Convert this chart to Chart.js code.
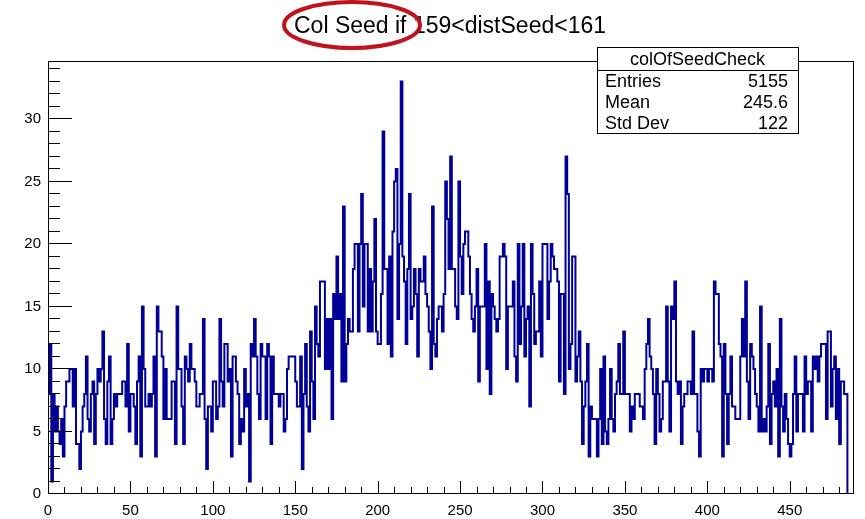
<!DOCTYPE html>
<html>
<head>
<meta charset="utf-8">
<script src="https://cdn.jsdelivr.net/npm/chart.js@4.4.1/dist/chart.umd.min.js"></script>
<style>
  html, body { margin: 0; padding: 0; background: #ffffff; }
  canvas { display: block; }
</style>
</head>
<body>
<canvas id="c" width="865" height="519"></canvas>
<script>
// Histogram: column of seed pixel, selected by 159 < distSeed < 161
const histTitle = 'Col Seed if 159<distSeed<161';
const histName = 'colOfSeedCheck';
const statLabels = ['Entries', 'Mean', 'Std Dev'];
const statValues = ['5155', '245.6', '122'];

const xRange = [0, 489];
const yMax = 34.65;
const xLabelStep = 50, xMinorStep = 10;
const yLabelStep = 5, yMinorStep = 1;

// counts per unit-wide bin, starting at column 0
const binCounts = [
   8,12, 1, 8, 5, 7, 5, 4, 6, 3,   7, 9, 9,10,10, 7,10, 4, 4, 2,
   5, 7, 8,11, 6, 5, 8, 9, 4, 8,  10, 9,10,13, 6, 4, 9,11, 4, 6,
   8, 7, 8, 8, 8, 9, 9, 7,12, 5,   8, 8, 7, 4, 9,11, 3,15,10, 7,
   7, 8, 7, 8,11, 3,15,13,13,11,   6,10, 6, 6, 6, 9, 9, 4,15,10,
  10, 7, 4,11,10, 9,12,10,10, 9,   7, 7, 8, 8,14, 6, 2, 7, 7, 5,
   9, 9, 6, 7,14, 9, 7,12,12, 9,  10, 3,11,11, 9, 8, 4, 6, 5,10,
   7, 8, 1,12,11,14,11, 8, 6,12,  11,11, 6,12,11, 4,11, 8, 8, 8,
   7, 8, 8, 5, 6,10,11,11,11,11,   9, 7, 7,11, 2, 8,12, 7, 5,13,
   9, 6,15,12,11,17,17,17,10,14,  10,14, 6,16,14,19,14,16, 9,23,
   9,12,14,13,13,18,20,20,13,20,  24,15,20,20,13,18,13,17,22,13,
  12,12,16,29,18,18,12,19,11,21,  25,26,14,20,33,19,17,12,18,24,
  14,15,18,16,11,18,17,17,19,16,  15,13,10,23,12,11,14,15,15,13,
  16,25,22,18,27,18,18,15,14,25,  19,16,20,21,21,19,16,14,13,15,
  18, 9,15,15,15,20,10,17, 8,16,  15,14,13,14,19,19,20,19,10,15,
  15,15,17,11, 9,20,12,15,20,11,  14,15, 7,20,16,12,13,13,17,11,
  20,20,20,14,17,20,19,18,18,17,   9,16,16, 8,27,24,10,12,19,19,
   9,11,13, 9, 4, 7, 9,12, 3, 7,   6, 6, 6, 3, 6,10, 4,11, 5, 4,
   6,10, 6, 5, 8, 9,12, 8, 8,13,   8, 8, 8, 5, 7, 6, 8, 8, 8, 7,
   7, 6,10,12,14,11,10, 8, 4,10,   8, 5, 6, 9, 9,15, 9, 5,15,14,
  17, 9, 8, 9, 4, 7, 8, 8, 9, 9,   8,13, 8, 8, 5, 3,10, 9,10,10,
   9,10,10, 9,17,16,16,12,11, 3,  12, 8, 4, 8,11, 7, 7, 6, 6, 6,
  11,14,11,17, 9, 6,12,11,10, 8,   7, 5,15, 5, 6, 5, 7,12, 4, 8,
   9, 7,10, 3,14, 7, 5, 8, 6, 4,   3, 4, 8,11, 5, 8, 8, 8, 5,11,
   8, 9, 9, 5,11,10,11, 9,11,12,  12,12, 6,13,13, 7,10,11, 6,10,
   4, 9, 9, 8, 8
];

// outline of the histogram: rise at the first edge, one step per bin, drop after the last
const outline = [{ x: xRange[0], y: 0 }];
binCounts.forEach((c, i) => outline.push({ x: xRange[0] + i, y: c }));
outline.push({ x: xRange[0] + binCounts.length, y: 0 });
outline.push({ x: xRange[1], y: 0 });

const FONT = '"Liberation Sans", Arial, Helvetica, sans-serif';
Chart.defaults.font.family = FONT;
Chart.defaults.color = '#000000';

// frame plus inward tick marks (major and minor) on the left and bottom axes
const frameTicks = {
  id: 'frameTicks',
  afterDatasetsDraw(chart) {
    const { ctx, chartArea: a, scales: { x, y } } = chart;
    ctx.save();
    ctx.strokeStyle = '#000000';
    ctx.lineWidth = 1;
    ctx.beginPath();
    for (let v = 0; v <= yMax; v += yMinorStep) {
      const py = Math.round(y.getPixelForValue(v)) - 0.5;
      const len = v % yLabelStep === 0 ? 24 : 12;
      ctx.moveTo(a.left, py);
      ctx.lineTo(a.left + len, py);
    }
    for (let v = xRange[0]; v <= xRange[1]; v += xMinorStep) {
      const px = Math.round(x.getPixelForValue(v)) + 0.5;
      const len = v % xLabelStep === 0 ? 13 : 7;
      ctx.moveTo(px, a.bottom);
      ctx.lineTo(px, a.bottom - len);
    }
    ctx.stroke();
    ctx.strokeRect(a.left + 0.5, a.top + 0.5, a.right - a.left - 1, a.bottom - a.top - 1);
    ctx.restore();
  }
};

// title with its ellipse mark, and the statistics box
const annotations = {
  id: 'annotations',
  afterDraw(chart) {
    const ctx = chart.ctx;
    ctx.save();
    ctx.fillStyle = '#000000';
    ctx.font = '23px ' + FONT;
    ctx.textAlign = 'left';
    ctx.textBaseline = 'alphabetic';
    ctx.fillText(histTitle, 294, 33);

    ctx.strokeStyle = '#c0131c';
    ctx.lineWidth = 4;
    ctx.beginPath();
    ctx.ellipse(352, 25, 68, 23, 0, 0, Math.PI * 2);
    ctx.stroke();

    const bx = 597, by = 47, bw = 201, bh = 86;
    ctx.fillStyle = '#ffffff';
    ctx.fillRect(bx, by, bw, bh);
    ctx.strokeStyle = '#000000';
    ctx.lineWidth = 1;
    ctx.strokeRect(bx + 0.5, by + 0.5, bw, bh);
    ctx.beginPath();
    ctx.moveTo(bx, by + 23.5);
    ctx.lineTo(bx + bw, by + 23.5);
    ctx.stroke();

    ctx.fillStyle = '#000000';
    ctx.font = '18px ' + FONT;
    ctx.textBaseline = 'middle';
    ctx.textAlign = 'center';
    ctx.fillText(histName, bx + bw / 2, by + 13);
    statLabels.forEach((lab, i) => {
      const ty = by + 35 + i * 21;
      ctx.textAlign = 'left';
      ctx.fillText(lab, bx + 8, ty);
      ctx.textAlign = 'right';
      ctx.fillText(statValues[i], bx + bw - 10, ty);
    });
    ctx.restore();
  }
};

new Chart(document.getElementById('c'), {
  type: 'line',
  data: {
    datasets: [{
      data: outline,
      stepped: true,
      borderColor: '#000099',
      borderWidth: 2,
      pointRadius: 0,
      fill: false,
      tension: 0
    }]
  },
  options: {
    responsive: false,
    animation: false,
    devicePixelRatio: 1,
    layout: { padding: { left: 0, right: 11, top: 61, bottom: 0 } },
    plugins: { legend: { display: false }, tooltip: { enabled: false }, title: { display: false } },
    scales: {
      x: {
        type: 'linear',
        min: xRange[0],
        max: xRange[1],
        grid: { display: false, drawTicks: false },
        border: { display: false },
        afterFit(s) { s.height = 25; },
        ticks: {
          stepSize: xLabelStep,
          includeBounds: false,
          autoSkip: false,
          maxRotation: 0,
          padding: 8,
          font: { size: 15 },
          color: '#000000'
        }
      },
      y: {
        type: 'linear',
        min: 0,
        max: yMax,
        grid: { display: false, drawTicks: false },
        border: { display: false },
        afterFit(s) { s.width = 48; },
        ticks: {
          stepSize: yLabelStep,
          includeBounds: false,
          padding: 7,
          font: { size: 15 },
          color: '#000000'
        }
      }
    }
  },
  plugins: [frameTicks, annotations]
});
</script>
</body>
</html>
